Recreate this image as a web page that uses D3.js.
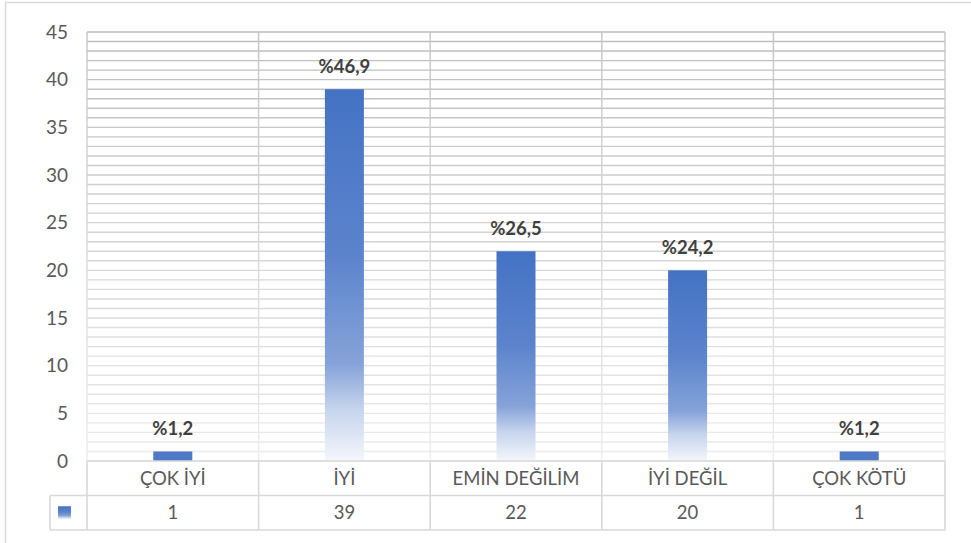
<!DOCTYPE html>
<html>
<head>
<meta charset="utf-8">
<script src="https://cdn.jsdelivr.net/npm/d3@7"></script>
<style>
  body { margin: 0; background: #fff; }
  svg { display: block; font-family: Lato, "Liberation Sans", sans-serif; }
</style>
</head>
<body>
<div class="container"></div>
<script>
// data
var categories = ["ÇOK İYİ", "İYİ", "EMİN DEĞİLİM", "İYİ DEĞİL", "ÇOK KÖTÜ"];
var counts = [1, 39, 22, 20, 1];
var percentLabels = ["%1,2", "%46,9", "%26,5", "%24,2", "%1,2"];
var yTicks = [0, 5, 10, 15, 20, 25, 30, 35, 40, 45];

var width = 971, height = 543;
var plot = {left: 87, right: 945, top: 32, bottom: 461};
var rowH = 34.5;
var legendLeft = 50;

var svg = d3.select(".container").append("svg")
    .attr("width", width).attr("height", height);

var defs = svg.append("defs");
var barGrad = defs.append("linearGradient").attr("id", "barGrad")
    .attr("x1", 0).attr("y1", 0).attr("x2", 0).attr("y2", 1);
barGrad.append("stop").attr("offset", "0").attr("stop-color", "#4472c4");
barGrad.append("stop").attr("offset", "0.45").attr("stop-color", "#5c84cc");
barGrad.append("stop").attr("offset", "0.74").attr("stop-color", "#86a3d9");
barGrad.append("stop").attr("offset", "0.86").attr("stop-color", "#c6d4ed");
barGrad.append("stop").attr("offset", "1").attr("stop-color", "#f4f6fc");

var vGrad = defs.append("linearGradient").attr("id", "vGrad")
    .attr("gradientUnits", "userSpaceOnUse")
    .attr("x1", 0).attr("y1", plot.top).attr("x2", 0).attr("y2", plot.bottom);
vGrad.append("stop").attr("offset", "0").attr("stop-color", "#c4c4c4");
vGrad.append("stop").attr("offset", "1").attr("stop-color", "#ebebeb");

// outer chart border
svg.append("rect")
    .attr("x", 5.5).attr("y", 2.5)
    .attr("width", width + 10).attr("height", height + 10)
    .attr("fill", "none").attr("stroke", "#d9d9d9").attr("stroke-width", 1.5);

var x = d3.scaleBand()
    .domain(categories)
    .range([plot.left, plot.right])
    .paddingInner(0).paddingOuter(0);

var y = d3.scaleLinear()
    .domain([0, 45])
    .range([plot.bottom, plot.top]);

var gridColor = d3.scaleLinear().domain([0, 45]).range(["#ececec", "#bdbdbd"]);

// horizontal gridlines, one per unit
svg.append("g").selectAll("line")
    .data(y.ticks(45))
    .enter().append("line")
    .attr("x1", plot.left).attr("x2", plot.right)
    .attr("y1", function(d){ return y(d); })
    .attr("y2", function(d){ return y(d); })
    .attr("stroke", function(d){ return gridColor(d); })
    .attr("stroke-width", 1.4);

// vertical category separators in the plot
var bounds = categories.map(function(c){ return x(c); }).concat([plot.right]);
svg.append("g").selectAll("line")
    .data(bounds)
    .enter().append("line")
    .attr("x1", function(d){ return d; }).attr("x2", function(d){ return d; })
    .attr("y1", plot.top).attr("y2", plot.bottom)
    .attr("stroke", "url(#vGrad)")
    .attr("stroke-width", 1.4);

// y axis labels
var yAxis = d3.axisLeft(y).tickValues(yTicks).tickSize(0).tickPadding(0);
var yg = svg.append("g")
    .attr("transform", "translate(68,0)")
    .call(yAxis);
yg.select(".domain").remove();
yg.selectAll("text")
    .attr("font-family", "Lato, sans-serif")
    .attr("font-size", 19)
    .attr("fill", "#595959");

// bars
var barW = 39;
svg.append("g").selectAll("rect")
    .data(counts)
    .enter().append("rect")
    .attr("x", function(d, i){ return x(categories[i]) + x.bandwidth() / 2 - barW / 2; })
    .attr("y", function(d){ return y(d); })
    .attr("width", barW)
    .attr("height", function(d){ return y(0) - y(d); })
    .attr("fill", function(d){ return d < 3 ? "#4d79c7" : "url(#barGrad)"; });

// data labels
svg.append("g").selectAll("text")
    .data(counts)
    .enter().append("text")
    .attr("x", function(d, i){ return x(categories[i]) + x.bandwidth() / 2; })
    .attr("y", function(d){ return y(d) - 16; })
    .attr("text-anchor", "middle")
    .attr("font-size", 18.5)
    .attr("font-weight", "bold")
    .attr("fill", "#404040")
    .text(function(d, i){ return percentLabels[i]; });

// data table
var tbl = svg.append("g").attr("stroke", "#d9d9d9").attr("stroke-width", 1.6);
tbl.append("line").attr("x1", plot.left).attr("x2", plot.right)
    .attr("y1", plot.bottom).attr("y2", plot.bottom);
tbl.append("line").attr("x1", legendLeft).attr("x2", plot.right)
    .attr("y1", plot.bottom + rowH).attr("y2", plot.bottom + rowH);
tbl.append("line").attr("x1", legendLeft).attr("x2", plot.right)
    .attr("y1", plot.bottom + 2 * rowH).attr("y2", plot.bottom + 2 * rowH);
tbl.append("line").attr("x1", legendLeft).attr("x2", legendLeft)
    .attr("y1", plot.bottom + rowH).attr("y2", plot.bottom + 2 * rowH);
tbl.selectAll(".vsep")
    .data(bounds)
    .enter().append("line")
    .attr("class", "vsep")
    .attr("x1", function(d){ return d; }).attr("x2", function(d){ return d; })
    .attr("y1", plot.bottom).attr("y2", plot.bottom + 2 * rowH);

svg.append("g").selectAll("text")
    .data(categories)
    .enter().append("text")
    .attr("x", function(d){ return x(d) + x.bandwidth() / 2; })
    .attr("y", plot.bottom + rowH / 2)
    .attr("dy", "0.35em")
    .attr("text-anchor", "middle")
    .attr("font-size", 18.5)
    .attr("fill", "#595959")
    .text(function(d){ return d; });

svg.append("g").selectAll("text")
    .data(counts)
    .enter().append("text")
    .attr("x", function(d, i){ return x(categories[i]) + x.bandwidth() / 2; })
    .attr("y", plot.bottom + rowH * 1.5)
    .attr("dy", "0.35em")
    .attr("text-anchor", "middle")
    .attr("font-size", 18.5)
    .attr("fill", "#595959")
    .text(function(d){ return d; });

// legend key
svg.append("rect")
    .attr("x", 58).attr("y", plot.bottom + rowH * 1.5 - 6.5)
    .attr("width", 13).attr("height", 13)
    .attr("fill", "url(#barGrad)");
</script>
</body>
</html>
